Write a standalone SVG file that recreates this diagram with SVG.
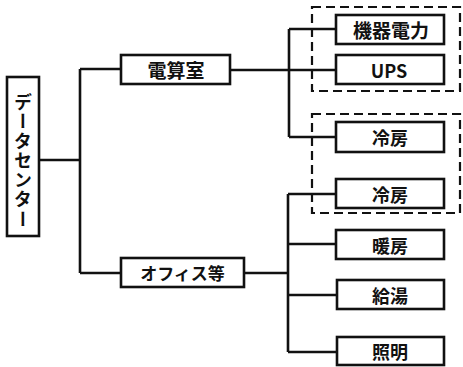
<svg xmlns="http://www.w3.org/2000/svg" width="463" height="367" viewBox="0 0 463 367">
<style>
.box{fill:#fff;stroke:#111;stroke-width:2.6}
.ln{fill:none;stroke:#111;stroke-width:2.6}
.dash{fill:none;stroke:#111;stroke-width:2.2;stroke-dasharray:9 5}
text{font-family:"Noto Sans CJK JP","Noto Sans",sans-serif;font-size:18px;font-weight:bold;fill:#111;text-anchor:middle;dominant-baseline:central}
</style>
<rect width="463" height="367" fill="#fff"/>
<g id="connectors">
<path class="ln" d="M39 160H80M80 69V273M80 69H121M80 273H121"/>
<path class="ln" d="M230 70H289M289 29V137M289 29H336M289 70H336M289 137H336"/>
<path class="ln" d="M244 273H288M288 194V352M288 194H336M288 244H336M288 295H336M288 352H336"/>
</g>
<g id="groups">
<rect class="dash" x="312" y="7" width="148" height="84"/>
<rect class="dash" x="312" y="114" width="148" height="99"/>
</g>
<g id="n-dc"><rect class="box" x="7" y="77" width="32" height="159"/><text x="23" y="161" writing-mode="tb" style="letter-spacing:1.5px">データセンター</text></g>
<g id="n-densan"><rect class="box" x="121" y="55" width="109" height="29"/><text x="176" y="69.5" style="font-size:19px">電算室</text></g>
<g id="n-office"><rect class="box" x="121" y="258" width="123" height="29"/><text x="182.5" y="272.5" style="font-size:17px">オフィス等</text></g>
<g id="n-kiki"><rect class="box" x="336" y="15" width="108" height="29"/><text x="391" y="29.5" style="font-size:19px">機器電力</text></g>
<g id="n-ups"><rect class="box" x="336" y="55" width="108" height="29"/><text x="389" y="69.5">UPS</text></g>
<g id="n-reibo1"><rect class="box" x="336" y="122" width="108" height="30"/><text x="390" y="137">冷房</text></g>
<g id="n-reibo2"><rect class="box" x="336" y="179" width="108" height="29"/><text x="390" y="193.5">冷房</text></g>
<g id="n-danbo"><rect class="box" x="336" y="230" width="108" height="29"/><text x="390" y="244.5">暖房</text></g>
<g id="n-kyuto"><rect class="box" x="337" y="280" width="107" height="29"/><text x="390" y="294.5">給湯</text></g>
<g id="n-shomei"><rect class="box" x="337" y="337" width="107" height="28"/><text x="390" y="351">照明</text></g>
</svg>
